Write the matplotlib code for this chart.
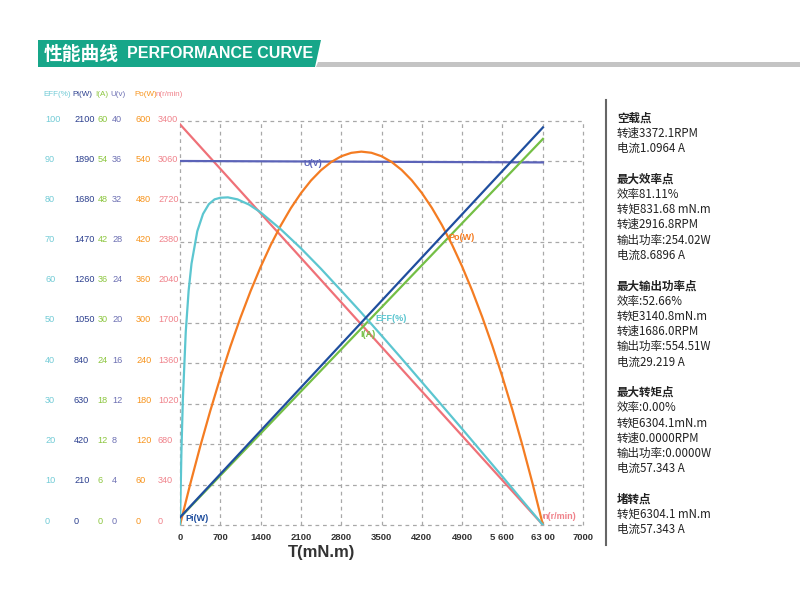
import matplotlib
matplotlib.use("Agg")
import matplotlib.pyplot as plt
from matplotlib.patches import Polygon
from matplotlib.lines import Line2D

plt.rcParams['font.family'] = ['Liberation Sans', 'Noto Sans CJK SC', 'DejaVu Sans']

# torque axis (mN.m)
x_ticks = [0, 700, 1400, 2100, 2800, 3500, 4200, 4900, 5600, 6300, 7000]
x_tick_labels = ['0', '700', '1400', '2100', '2800', '3500', '4200', '4900', '5 600', '63 00', '7000']

# left scale columns
eff_scale = [0, 10, 20, 30, 40, 50, 60, 70, 80, 90, 100]
pi_scale = [0, 210, 420, 630, 840, 1050, 1260, 1470, 1680, 1890, 2100]
i_scale = [0, 6, 12, 18, 24, 30, 36, 42, 48, 54, 60]
u_scale = [0, 4, 8, 12, 16, 20, 24, 28, 32, 36, 40]
po_scale = [0, 60, 120, 180, 240, 300, 360, 420, 480, 540, 600]
n_scale = [0, 340, 680, 1020, 1360, 1700, 2040, 2380, 2720, 3060, 3400]

# curves
t_line = [0, 6304.1]
n_rpm = [3372.1, 0]
u_volt = [36.04, 35.9]
i_amp = [1.0964, 57.343]
pi_watt = [39.5, 2066.6]

t_po = [0, 175, 350, 525, 700, 875, 1050, 1225, 1400, 1575, 1750, 1925, 2100,
        2275, 2450, 2625, 2800, 2975, 3150, 3325, 3500, 3675, 3850, 4025, 4200,
        4375, 4550, 4725, 4900, 5075, 5250, 5425, 5600, 5775, 5950, 6125, 6304.1]
po_watt = [0, 59.9, 116.3, 169.3, 218.9, 265.1, 307.9, 347.2, 383.2, 415.7,
           444.8, 470.5, 492.7, 511.6, 527.0, 539.0, 547.6, 552.7, 554.5, 552.8,
           547.7, 539.2, 527.3, 512.0, 493.2, 471.0, 445.4, 416.4, 384.0, 348.1,
           308.8, 266.2, 220.0, 170.5, 117.6, 61.2, 0]

t_eff = [0, 25, 50, 100, 150, 200, 300, 400, 500, 600, 700, 832, 1000, 1200,
         1400, 1750, 2100, 2450, 2800, 3141, 3500, 3850, 4200, 4550, 4900,
         5250, 5600, 5950, 6304.1]
eff_pct = [0, 18.4, 31.2, 47.8, 58.0, 64.7, 72.7, 77.0, 79.4, 80.6, 81.0, 81.1,
           80.6, 79.3, 77.4, 73.2, 68.5, 63.4, 58.0, 52.7, 46.9, 41.2, 35.4,
           29.6, 23.8, 17.9, 12.0, 6.0, 0]

c_eff = '#5cc6d0'
c_pi = '#1f4e9e'
c_i = '#74bf45'
c_u = '#5b63b8'
c_po = '#f47c22'
c_n = '#ef7178'
c_eff_t = '#72cbd6'
c_pi_t = '#2b3f8e'
c_i_t = '#8cc63f'
c_u_t = '#6d70b3'
c_po_t = '#f7941d'
c_n_t = '#f0828b'

fig = plt.figure(figsize=(8, 6), dpi=100)
W, H = 800.0, 600.0

def fx(px):
    return px / W

def fy(py):
    return 1 - py / H

ax = fig.add_axes([fx(180), fy(525), fx(583) - fx(180), fy(121) - fy(525)])
ax.set_xlim(0, 7000)
ax.set_ylim(0, 100)
for s in ax.spines.values():
    s.set_visible(False)
ax.set_xticks(x_ticks)
ax.set_xticklabels(x_tick_labels, fontsize=6.8, fontweight='bold', color='#333333')
ax.set_yticks(eff_scale)
ax.set_yticklabels([])
ax.tick_params(length=0, pad=6)
ax.grid(True, linestyle=(0, (3, 3)), color='#a8a8a8', lw=0.9)
for g in ax.get_xgridlines() + ax.get_ygridlines():
    g.set_clip_on(False)

# curves, scaled onto the 0-100 frame
ax.plot(t_line, [v / 34.0 for v in n_rpm], color=c_n, lw=1.6, zorder=3)
ax.plot(t_line, [v / 0.4 for v in u_volt], color=c_u, lw=1.6, zorder=3)
ax.plot(t_line, [v / 0.6 for v in i_amp], color=c_i, lw=1.6, zorder=3)
ax.plot(t_line, [v / 21.0 for v in pi_watt], color=c_pi, lw=1.6, zorder=4)
ax.plot(t_po, [v / 6.0 for v in po_watt], color=c_po, lw=1.6, zorder=3)
ax.plot(t_eff, eff_pct, color=c_eff, lw=1.6, zorder=3)

lab = dict(fontsize=6.5, fontweight='bold', va='center', ha='left', zorder=6)
ax.text(2150, 89.5, 'U(V)', color=c_u, **lab)
ax.text(4670, 71.2, 'Po(W)', color=c_po, **lab)
ax.text(3390, 51.0, 'EFF(%)', color=c_eff, **lab)
ax.text(3130, 47.2, 'I(A)', color=c_i, **lab)
ax.text(90, 1.6, 'Pi(W)', color=c_pi, **lab)
ax.text(6300, 2.0, 'n(r/min)', color=c_n_t, **lab)

# left scale columns
cols = [(45, eff_scale, c_eff_t, 'EFF(%)'), (74, pi_scale, c_pi_t, 'Pi(W)'),
        (97.5, i_scale, c_i_t, 'I(A)'), (112, u_scale, c_u_t, 'U(v)'),
        (136, po_scale, c_po_t, 'Po(W)'), (158, n_scale, c_n_t, 'n(r/min)')]
for px, vals, col, head in cols:
    for k, v in enumerate(vals):
        fig.text(fx(px), fy(521 - k * 40.2), str(v), color=col, fontsize=6.6,
                 ha='left', va='center')
    fig.text(fx(px - 2), fy(95), head, color=col, fontsize=5.8, ha='left', va='center')

fig.text(fx(322), fy(553), 'T(mN.m)', fontsize=12, fontweight='bold', color='#333333',
         ha='center', va='center')

# title banner
fig.patches.append(Polygon([(fx(318), fy(62)), (fx(800), fy(62)), (fx(800), fy(67)),
                            (fx(316), fy(67))], closed=True, transform=fig.transFigure,
                           facecolor='#c4c4c4', edgecolor='none'))
fig.patches.append(Polygon([(fx(38), fy(40)), (fx(321), fy(40)), (fx(315), fy(67)),
                            (fx(38), fy(67))], closed=True, transform=fig.transFigure,
                           facecolor='#17a689', edgecolor='none'))
fig.text(fx(44), fy(54), '性能曲线', color='white', fontsize=13.5, fontweight='bold',
         ha='left', va='center', family=['Noto Sans CJK SC', 'DejaVu Sans'])
fig.text(fx(127), fy(54), 'PERFORMANCE CURVE', color='white', fontsize=11.5,
         fontweight='bold', ha='left', va='center')

# info panel
fig.add_artist(Line2D([fx(606), fx(606)], [fy(100), fy(545)], color='#666666', lw=1.5))
info = [
    ('空载点', True), ('转速3372.1RPM', False), ('电流1.0964 A', False), ('', False),
    ('最大效率点', True), ('效率81.11%', False), ('转矩831.68 mN.m', False),
    ('转速2916.8RPM', False), ('输出功率:254.02W', False), ('电流8.6896 A', False), ('', False),
    ('最大输出功率点', True), ('效率:52.66%', False), ('转矩3140.8mN.m', False),
    ('转速1686.0RPM', False), ('输出功率:554.51W', False), ('电流29.219 A', False), ('', False),
    ('最大转矩点', True), ('效率:0.00%', False), ('转矩6304.1mN.m', False),
    ('转速0.0000RPM', False), ('输出功率:0.0000W', False), ('电流57.343 A', False), ('', False),
    ('堵转点', True), ('转矩6304.1 mN.m', False), ('电流57.343 A', False),
]
yy = 118
for txt, bold in info:
    if txt:
        fig.text(fx(617), fy(yy), txt, fontsize=8.3, color='#222222',
                 fontweight='bold' if bold else 'normal', ha='left', va='center',
                 family=['Noto Sans CJK SC', 'DejaVu Sans'])
    yy += 15.25

fig.savefig('out.png', dpi=100)
